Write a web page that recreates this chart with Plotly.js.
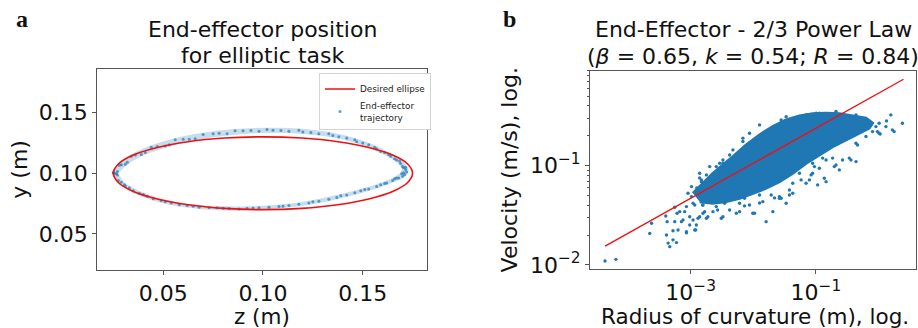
<!DOCTYPE html>
<html>
<head>
<meta charset="utf-8">
<script src="https://cdn.plot.ly/plotly-3.0.1.min.js"></script>
<style>html,body{margin:0;padding:0;background:#fff;}#chart{width:918px;height:328px;}</style>
</head>
<body>
<div id="chart"></div>
<script>
// ---------- Panel a: desired ellipse (z, y in metres) ----------
var ellipseZ = [0.175,0.1724,0.1650,0.1530,0.1375,0.1194,0.1000,0.0806,0.0625,0.0470,0.0350,0.0276,0.025,0.0276,0.0350,0.0470,0.0625,0.0806,0.1000,0.1194,0.1375,0.1530,0.1650,0.1724,0.175];
var ellipseY = [0.100,0.1078,0.1150,0.1212,0.1260,0.1290,0.1300,0.1290,0.1260,0.1212,0.1150,0.1078,0.100,0.0922,0.0850,0.0788,0.0740,0.0710,0.0700,0.0710,0.0740,0.0788,0.0850,0.0922,0.100];

// ---------- Panel a: end-effector trajectory (four laps) ----------
var trajZ = [
  0.0255,0.029,0.036,0.047,0.060,0.075,0.090,0.105,0.120,0.135,0.147,0.157,0.164,0.169,0.1715,0.171,0.168,0.162,0.153,0.142,0.128,0.113,0.098,0.083,0.068,0.054,0.042,0.033,0.0275,
  0.0265,0.031,0.039,0.051,0.066,0.082,0.098,0.113,0.128,0.142,0.153,0.161,0.167,0.1705,0.1695,0.166,0.159,0.149,0.137,0.123,0.108,0.092,0.077,0.062,0.049,0.038,0.0305,
  0.025,0.028,0.034,0.044,0.056,0.070,0.086,0.102,0.118,0.133,0.146,0.156,0.163,0.1685,0.1715,0.172,0.170,0.165,0.157,0.146,0.133,0.118,0.103,0.088,0.073,0.058,0.045,0.035,0.029,0.025,
  0.027,0.032,0.041,0.053,0.063,0.078,0.094,0.109,0.124,0.138,0.150,0.159,0.166,0.170,0.1705,0.167,0.161,0.151,0.139,0.125,0.110,0.095,0.080,0.065,0.051,0.040,0.031,0.027
];
var trajY = [
  0.100,0.107,0.115,0.122,0.128,0.1325,0.135,0.1355,0.134,0.131,0.126,0.120,0.114,0.108,0.103,0.099,0.096,0.092,0.087,0.082,0.077,0.0735,0.0715,0.071,0.072,0.0755,0.081,0.088,0.094,
  0.0995,0.1075,0.1155,0.1225,0.1285,0.1325,0.1345,0.1345,0.1325,0.129,0.1235,0.117,0.111,0.1045,0.0995,0.0955,0.0905,0.0855,0.080,0.0755,0.0725,0.0712,0.0715,0.0735,0.0775,0.0835,0.0905,
  0.1005,0.1065,0.114,0.1215,0.1275,0.132,0.135,0.136,0.1355,0.1325,0.1275,0.1215,0.1155,0.110,0.105,0.101,0.0975,0.094,0.089,0.084,0.0785,0.0745,0.072,0.0705,0.0715,0.074,0.079,0.0855,0.0925,0.1005,
  0.1015,0.109,0.117,0.1235,0.128,0.133,0.1352,0.1352,0.1335,0.130,0.125,0.118,0.112,0.1055,0.1005,0.096,0.0915,0.0865,0.0815,0.0765,0.0728,0.0713,0.0712,0.0728,0.0765,0.0825,0.0895,0.0985
];

// ---------- Panel b: dense cloud outline (radius m, velocity m/s) ----------
var cloudR = [1.089e-3,2.265e-3,4.72e-3,7.71e-3,0.01256,0.02046,0.0334,0.0545,0.0885,0.1449,0.2360,0.3837,0.628,0.800,
              0.708,0.491,0.301,0.1845,0.1132,0.0695,0.0426,0.0261,0.0160,9.82e-3,6.03e-3,3.70e-3,2.265e-3,1.39e-3];
var cloudV = [0.0527,0.0838,0.1233,0.1614,0.2037,0.2472,0.2884,0.3162,0.3319,0.3373,0.3319,0.3162,0.2999,0.2673,
              0.2382,0.2118,0.1816,0.1552,0.1282,0.1057,0.0838,0.0690,0.0592,0.0527,0.0470,0.0434,0.0418,0.0434];

// ---------- Panel b: individual samples around the cloud ----------
var sampleR = [4.28e-5,6.40e-5,2.22e-4,2.37e-4,4.36e-4,5.92e-4,4.10e-4,4.20e-4,4.00e-4,5.22e-4,6.28e-4,6.05e-4,5.56e-4,7.11e-4,8.55e-4,9.64e-4,1.20e-3,1.09e-3,1.31e-3,9.06e-4,
  1.03e-3,8.02e-4,1.57e-3,1.78e-3,1.48e-3,1.78e-3,2.56e-3,3.27e-3,4.18e-3,2.01e-3,2.56e-3,3.27e-3,4.18e-3,5.35e-3,6.03e-3,3.48e-3,1.88e-3,6.03e-3,9.82e-3,0.0160,
  0.0205,0.0261,0.0426,0.0695,0.1064,0.145,0.0885,0.145,0.266,0.436,0.196,0.340,1.02,1.57,1.66,2.40,1.31,0.959,1.34,1.06,
  0.01256,6.81e-3,4.72e-3,3.27e-3,0.0334,0.0695,0.113,0.236,0.209,0.136,0.0785,0.0944,0.1845,0.461,0.628,1.02,0.906,0.0278,0.0193,0.01256,
  9.27e-3,7.24e-3,0.0545,0.0426,8.69e-3,6.81e-3,0.0278,0.1005,0.209,0.436,1.25e-3,1.55e-3,2.16e-3,1.16e-3,2.69e-3,7.24e-3,0.01256,0.0218,0.0377,1.39e-3,
  5.56e-4,8.55e-4,1.16e-3,1.23e-3,7.54e-4,9.64e-4,1.39e-3,1.67e-3,6.68e-4,8.55e-4,1.09e-3,1.57e-3,2.265e-3,3.08e-3,8.69e-3,0.01045,0.01416,0.0261,0.0377,0.0334,
  1.03e-3,1.48e-3,1.39e-3,2.01e-3,2.90e-3,5.22e-4,4.63e-4,0.128,0.0885,0.362,0.1132,0.0836,0.0579,0.436,0.800,1.77];
var sampleV = [0.01096,0.0114,0.0208,0.0263,0.0166,0.0168,0.0200,0.0273,0.0311,0.0221,0.0225,0.0332,0.0381,0.0273,0.0211,0.0253,0.0225,0.0284,0.0295,0.0527,
  0.0488,0.0344,0.0332,0.0295,0.0690,0.0806,0.0977,0.1057,0.128,0.0452,0.0387,0.0306,0.0358,0.0332,0.0418,0.0418,0.0306,0.0344,0.0332,0.0273,
  0.0344,0.0488,0.0527,0.0665,0.0640,0.0690,0.0838,0.114,0.114,0.1097,0.0977,0.119,0.267,0.324,0.229,0.267,0.247,0.220,0.282,0.208,
  0.257,0.1746,0.144,0.114,0.311,0.324,0.337,0.0905,0.1016,0.0747,0.0718,0.0977,0.119,0.1614,0.196,0.212,0.247,0.0470,0.0507,0.0507,
  0.0547,0.0470,0.0838,0.0665,0.212,0.189,0.288,0.337,0.350,0.324,0.0596,0.0402,0.0543,0.0402,0.0358,0.0393,0.0421,0.0473,0.0569,0.0752,
  0.0273,0.0216,0.0225,0.0253,0.0284,0.0306,0.0306,0.0344,0.0344,0.0387,0.0418,0.0402,0.0344,0.0295,0.0402,0.0332,0.0434,0.0470,0.0507,0.0418,
  0.0615,0.0718,0.0838,0.0977,0.1057,0.0179,0.0153,0.119,0.1057,0.114,0.0942,0.0806,0.0718,0.168,0.220,0.220];

// ---------- Panel b: fitted power law line ----------
var fitR = [4.3e-5, 2.5];
var fitV = [0.0155, 0.74];

var logTickVals = [1e-3, 1e-1];
var logTickText = ['10<sup>\u22123</sup>', '10<sup>\u22121</sup>'];
var vTickVals = [1e-2, 1e-1];
var vTickText = ['10<sup>\u22122</sup>', '10<sup>\u22121</sup>'];
var vMinor = [0.02,0.03,0.04,0.05,0.06,0.07,0.08,0.09,0.2,0.3,0.4,0.5,0.6,0.7,0.8,0.9];

var blue = '#1f77b4';
var F = 'DejaVu Sans';

var traces = [
  {x: trajZ, y: trajY, xaxis:'x', yaxis:'y', mode:'lines', showlegend:false, hoverinfo:'skip',
   line:{color:'rgba(31,119,180,0.25)', width:3.5, shape:'spline'}},
  {x: trajZ, y: trajY, xaxis:'x', yaxis:'y', mode:'markers', name:'End-effector<br>trajectory', legendrank:2,
   marker:{color:'rgba(31,119,180,0.7)', size:3}},
  {x: ellipseZ, y: ellipseY, xaxis:'x', yaxis:'y', mode:'lines', name:'Desired ellipse', legendrank:1,
   line:{color:'#ee1111', width:1.6, shape:'spline', smoothing:1}},
  {x: cloudR, y: cloudV, xaxis:'x2', yaxis:'y2', mode:'lines', fill:'toself', fillcolor:blue, showlegend:false,
   line:{color:blue, width:3}},
  {x: sampleR, y: sampleV, xaxis:'x2', yaxis:'y2', mode:'markers', showlegend:false,
   marker:{color:blue, size:3.4}},
  {x: fitR, y: fitV, xaxis:'x2', yaxis:'y2', mode:'lines', showlegend:false,
   line:{color:'#ee1111', width:1.4}}
];

var axCommon = {showline:true, mirror:true, linecolor:'#555', linewidth:1, ticks:'outside', ticklen:4, tickcolor:'#555',
  showgrid:false, zeroline:false, tickfont:{family:F, size:22, color:'#111'}};

function ann(text, xPx, yPx, size, fam, anchorX) {
  return {text:text, x:xPx/918, y:1-yPx/328, xref:'paper', yref:'paper', showarrow:false,
          xanchor:anchorX || 'center', yanchor:'middle', font:{family:fam || F, size:size, color:'#111'}};
}

var layout = {
  width:918, height:328, margin:{l:0,r:0,t:0,b:0}, paper_bgcolor:'#fff', plot_bgcolor:'#fff',
  font:{family:F, color:'#111'},
  xaxis: Object.assign({}, axCommon, {domain:[0.1057,0.4651], range:[0.0168,0.1822], tick0:0, dtick:0.05, tickformat:'.2f'}),
  yaxis: Object.assign({}, axCommon, {domain:[0.177,0.790], range:[0.0203,0.186], tick0:0, dtick:0.05, tickformat:'.2f',
    title:{text:'y (m)', font:{family:F, size:22, color:'#111'}, standoff:4}}),
  xaxis2: Object.assign({}, axCommon, {domain:[0.6427,0.9978], type:'log', range:[-4.608,0.597], anchor:'y2',
    tickmode:'array', tickvals:logTickVals, ticktext:logTickText}),
  yaxis2: Object.assign({}, axCommon, {domain:[0.180,0.785], type:'log', range:[-2.04,-0.043], anchor:'x2',
    tickmode:'array', tickvals:vTickVals, ticktext:vTickText,
    minor:{tickmode:'array', tickvals:vMinor, ticks:'outside', ticklen:2, tickcolor:'#555'},
    title:{text:'Velocity (m/s), log.', font:{family:F, size:22, color:'#111'}, standoff:6}}),
  legend:{x:0.3475, y:0.776, xanchor:'left', yanchor:'top', bgcolor:'#fff', bordercolor:'#d4d4d4', borderwidth:1,
    font:{family:F, size:8.8, color:'#222'}, itemwidth:30, tracegroupgap:0},
  annotations:[
    ann('End-effector position', 262, 30, 22),
    ann('for elliptic task', 262, 55, 22),
    ann('End-Effector - 2/3 Power Law', 753, 30, 22),
    ann('(<i>\u03b2</i> = 0.65, <i>k</i> = 0.54; <i>R</i> = 0.84)', 753, 56, 22),
    ann('z (m)', 262, 316, 21.5),
    ann('Radius of curvature (m), log.', 755, 316, 21.5),
    ann('<b>a</b>', 14, 19, 24, 'Liberation Serif', 'left'),
    ann('<b>b</b>', 501, 19, 24, 'Liberation Serif', 'left')
  ]
};

Plotly.newPlot('chart', traces, layout, {displayModeBar:false, staticPlot:true});
</script>
</body>
</html>
